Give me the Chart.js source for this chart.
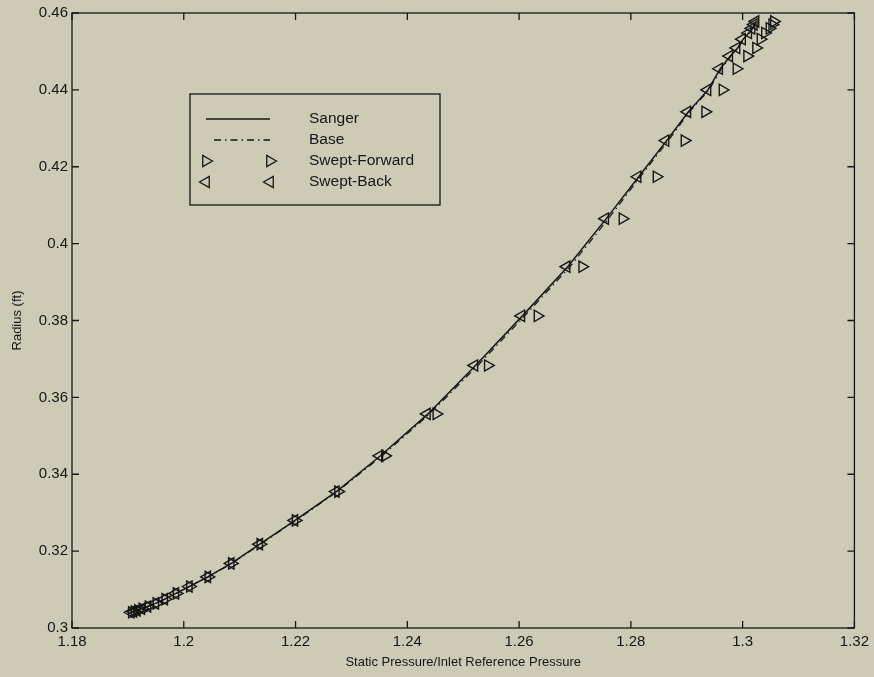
<!DOCTYPE html>
<html>
<head>
<meta charset="utf-8">
<script src="https://cdn.jsdelivr.net/npm/chart.js@4.4.1/dist/chart.umd.min.js"></script>
<style>
  html, body { margin: 0; padding: 0; background: #cdcbb6; }
  #wrap { width: 874px; height: 677px; }
</style>
</head>
<body>
<div id="wrap"><canvas id="c" width="874" height="677"></canvas></div>
<script>
// ---- data ----
const radius = [0.3041, 0.3043, 0.3046, 0.3050, 0.3056, 0.3064, 0.3075, 0.3090, 0.3108, 0.3133, 0.3168,
                0.3218, 0.3280, 0.3355, 0.3448, 0.3557, 0.3683, 0.3812, 0.3940, 0.4065, 0.4174, 0.4268,
                0.4343, 0.4400, 0.4455, 0.4488, 0.4509, 0.4532, 0.4548, 0.4560, 0.4570, 0.4578];
const sangerP = [1.1905, 1.1910, 1.1916, 1.1924, 1.1935, 1.1949, 1.1966, 1.1986, 1.2010, 1.2043, 1.2085,
                 1.2136, 1.2199, 1.2273, 1.2352, 1.2437, 1.2522, 1.2606, 1.2687, 1.2756, 1.2814, 1.2864,
                 1.2903, 1.2938, 1.2960, 1.2978, 1.2991, 1.3001, 1.3011, 1.3017, 1.3021, 1.3024];
const baseP = [1.1905, 1.1910, 1.1916, 1.1924, 1.1935, 1.1949, 1.1966, 1.1986, 1.2010, 1.2044, 1.2086,
               1.2137, 1.2201, 1.2275, 1.2355, 1.2440, 1.2526, 1.2610, 1.2691, 1.2760, 1.2817, 1.2867,
               1.2905, 1.2940, 1.2962, 1.2979, 1.2992, 1.3002, 1.3012, 1.3018, 1.3022, 1.3025];
const sweptForwardP = [1.1907, 1.1912, 1.1918, 1.1926, 1.1937, 1.1951, 1.1967, 1.1987, 1.2011, 1.2044, 1.2086,
                       1.2137, 1.2200, 1.2276, 1.2360, 1.2452, 1.2544, 1.2633, 1.2713, 1.2785, 1.2846, 1.2896,
                       1.2933, 1.2964, 1.2989, 1.3008, 1.3024, 1.3032, 1.3040, 1.3048, 1.3053, 1.3056];
const sweptBackP = [1.1905, 1.1910, 1.1916, 1.1924, 1.1935, 1.1949, 1.1965, 1.1985, 1.2009, 1.2042, 1.2084,
                    1.2135, 1.2198, 1.2272, 1.2350, 1.2435, 1.2520, 1.2604, 1.2685, 1.2754, 1.2812, 1.2862,
                    1.2901, 1.2937, 1.2958, 1.2976, 1.2989, 1.2999, 1.3010, 1.3016, 1.3020, 1.3023];
const xTickValues = [1.18, 1.20, 1.22, 1.24, 1.26, 1.28, 1.30, 1.32];
const xTickLabels = ['1.18', '1.2', '1.22', '1.24', '1.26', '1.28', '1.3', '1.32'];
const yTickValues = [0.30, 0.32, 0.34, 0.36, 0.38, 0.40, 0.42, 0.44, 0.46];
const yTickLabels = ['0.3', '0.32', '0.34', '0.36', '0.38', '0.4', '0.42', '0.44', '0.46'];
const seriesNames = ['Sanger', 'Base', 'Swept-Forward', 'Swept-Back'];

const INK = '#161616';
const BG = '#cdcbb6';
const FONT = "'Liberation Sans', Arial, Helvetica, sans-serif";

function pts(xs) { return xs.map((x, i) => ({ x: x, y: radius[i] })); }

const bgPlugin = {
  id: 'bg',
  beforeDraw(chart) {
    const ctx = chart.ctx;
    ctx.save();
    ctx.fillStyle = BG;
    ctx.fillRect(0, 0, chart.width, chart.height);
    ctx.restore();
  }
};

const boxPlugin = {
  id: 'box',
  afterDatasetsDraw(chart) {
    const ctx = chart.ctx;
    const a = chart.chartArea;
    const xs = chart.scales.x, ys = chart.scales.y;
    ctx.save();
    ctx.strokeStyle = INK;
    ctx.lineWidth = 1.3;
    ctx.strokeRect(a.left, a.top, a.right - a.left, a.bottom - a.top);
    const L = 7;
    ctx.beginPath();
    xs.ticks.forEach(t => {
      const px = xs.getPixelForValue(t.value);
      ctx.moveTo(px, a.bottom); ctx.lineTo(px, a.bottom - L);
      ctx.moveTo(px, a.top); ctx.lineTo(px, a.top + L);
    });
    ys.ticks.forEach(t => {
      const py = ys.getPixelForValue(t.value);
      ctx.moveTo(a.left, py); ctx.lineTo(a.left + L, py);
      ctx.moveTo(a.right, py); ctx.lineTo(a.right - L, py);
    });
    ctx.stroke();
    ctx.restore();
  }
};

function drawTri(ctx, x, y, r, dir) {
  ctx.beginPath();
  ctx.moveTo(x + dir * r, y);
  ctx.lineTo(x - dir * r * 0.5, y - r * 0.866);
  ctx.lineTo(x - dir * r * 0.5, y + r * 0.866);
  ctx.closePath();
  ctx.stroke();
}

const legendPlugin = {
  id: 'mlegend',
  afterDraw(chart) {
    const ctx = chart.ctx;
    ctx.save();
    const bx = 190, by = 94, bw = 250, bh = 111;
    ctx.strokeStyle = INK;
    ctx.lineWidth = 1.3;
    ctx.strokeRect(bx, by, bw, bh);
    const rows = [119, 140, 161, 182];
    const x1 = 206, x2 = 270, tx = 309;
    ctx.lineWidth = 1.5;
    ctx.beginPath(); ctx.moveTo(x1, rows[0]); ctx.lineTo(x2, rows[0]); ctx.stroke();
    ctx.lineWidth = 1.3;
    ctx.setLineDash([7, 4, 1.5, 4]);
    ctx.beginPath(); ctx.moveTo(x1 + 8, rows[1]); ctx.lineTo(x2, rows[1]); ctx.stroke();
    ctx.setLineDash([]);
    drawTri(ctx, x1, rows[2], 6.5, 1);
    drawTri(ctx, x2, rows[2], 6.5, 1);
    drawTri(ctx, x1, rows[3], 6.5, -1);
    drawTri(ctx, x2, rows[3], 6.5, -1);
    ctx.fillStyle = INK;
    ctx.font = '15.5px ' + FONT;
    ctx.textBaseline = 'middle';
    ctx.textAlign = 'left';
    seriesNames.forEach((n, i) => ctx.fillText(n, tx, rows[i]));
    ctx.restore();
  }
};

new Chart(document.getElementById('c'), {
  type: 'scatter',
  data: {
    datasets: [
      { label: seriesNames[0], data: pts(sangerP), showLine: true, borderColor: INK, borderWidth: 1.5,
        pointRadius: 0, tension: 0 },
      { label: seriesNames[1], data: pts(baseP), showLine: true, borderColor: INK, borderWidth: 1.2,
        borderDash: [7, 4, 1.5, 4], pointRadius: 0, tension: 0 },
      { label: seriesNames[2], data: pts(sweptForwardP), showLine: false, pointStyle: 'triangle',
        rotation: 90, pointRadius: 6.5, borderColor: INK, backgroundColor: 'rgba(0,0,0,0)', pointBorderWidth: 1.4 },
      { label: seriesNames[3], data: pts(sweptBackP), showLine: false, pointStyle: 'triangle',
        rotation: -90, pointRadius: 6.5, borderColor: INK, backgroundColor: 'rgba(0,0,0,0)', pointBorderWidth: 1.4 }
    ]
  },
  options: {
    responsive: false,
    animation: false,
    events: [],
    layout: { padding: { top: 12, right: 19, left: 0, bottom: 0 } },
    plugins: { legend: { display: false }, tooltip: { enabled: false } },
    scales: {
      x: {
        type: 'linear', min: 1.18, max: 1.32,
        afterBuildTicks: s => { s.ticks = xTickValues.map(v => ({ value: v })); },
        afterFit: s => { s.height = 49; },
        grid: { display: false, drawTicks: false },
        border: { display: false },
        ticks: { color: INK, padding: 5, maxRotation: 0, autoSkip: false,
                 font: { family: FONT, size: 15 },
                 callback: (v, i) => xTickLabels[i] },
        title: { display: true, text: 'Static Pressure/Inlet Reference Pressure', color: INK,
                 font: { family: FONT, size: 13 }, padding: { top: 0, bottom: 7 } }
      },
      y: {
        type: 'linear', min: 0.30, max: 0.46,
        afterBuildTicks: s => { s.ticks = yTickValues.map(v => ({ value: v })); },
        afterFit: s => { s.width = 72; },
        grid: { display: false, drawTicks: false },
        border: { display: false },
        ticks: { color: INK, padding: 4, autoSkip: false,
                 font: { family: FONT, size: 15 },
                 callback: (v, i) => yTickLabels[i] },
        title: { display: true, text: 'Radius (ft)', color: INK,
                 font: { family: FONT, size: 13 }, padding: { top: 10, bottom: 0 } }
      }
    }
  },
  plugins: [bgPlugin, boxPlugin, legendPlugin]
});
</script>
</body>
</html>
